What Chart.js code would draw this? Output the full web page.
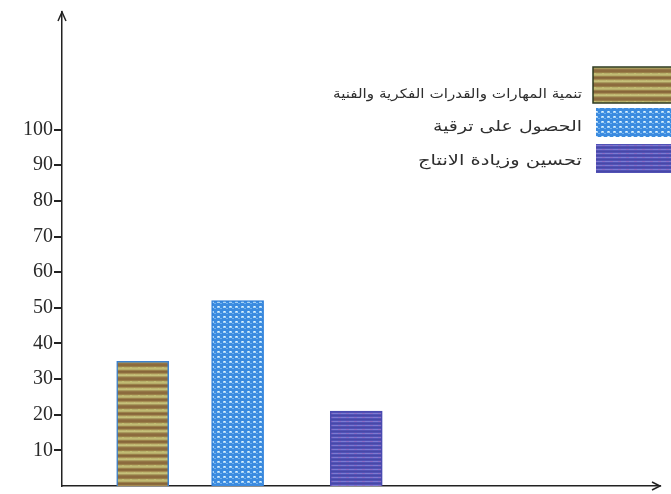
<!DOCTYPE html>
<html lang="ar">
<head>
<meta charset="utf-8">
<title>أسباب المشاركة في التدريب</title>
<script src="https://cdn.jsdelivr.net/npm/chart.js@4.4.1/dist/chart.umd.min.js"></script>
<style>
  html, body { margin: 0; padding: 0; background: #fff; }
  #wrap { width: 671px; height: 494px; }
</style>
</head>
<body>
<div id="wrap"><canvas id="chart" width="671" height="494"></canvas></div>
<script>
// categories and values
const labels = [
  'تنمية المهارات والقدرات الفكرية والفنية',
  'الحصول على ترقية',
  'تحسين وزيادة الانتاج'
];
const values = [35, 52, 21];
// position of each bar along the horizontal axis
const barPos = [1, 2, 3.25];
const yTicks = [10, 20, 30, 40, 50, 60, 70, 80, 90, 100];

// small tiled fills for the bars
function makePattern(w, h, paint) {
  const c = document.createElement('canvas');
  c.width = w; c.height = h;
  paint(c.getContext('2d'));
  return c.getContext('2d').createPattern(c, 'repeat');
}

const patBrown = makePattern(8, 14, g => {
  const rows = ['#8c6b3e', '#8c6b3e', '#9a7f48', '#b5ad6a', '#c2bb73', '#b5ad6a', '#9a7f48',
                '#87663a', '#8c6b3e', '#a58c52', '#bdb570', '#c6c07a', '#a89a5c', '#947646'];
  rows.forEach((col, y) => { g.fillStyle = col; g.fillRect(0, y, 8, 1); });
  g.fillStyle = 'rgba(200,200,120,0.6)';
  g.fillRect(2, 3, 2, 1); g.fillRect(6, 10, 1, 1);
});

const patBlue = makePattern(6, 5, g => {
  g.fillStyle = '#3b8be0';
  g.fillRect(0, 0, 6, 5);
  g.fillStyle = '#a6d3f6';
  g.fillRect(1, 1, 3, 2);
  g.fillStyle = '#e6f3fd';
  g.fillRect(2, 1, 1, 1);
  g.fillStyle = '#6fb0ee';
  g.fillRect(4, 3, 2, 1);
});

const patPurple = makePattern(8, 4, g => {
  g.fillStyle = '#5252b6';
  g.fillRect(0, 0, 8, 4);
  g.fillStyle = '#7b7bd2';
  g.fillRect(0, 1, 8, 1);
  g.fillStyle = '#8a6cc4';
  g.fillRect(2, 1, 3, 1);
  g.fillStyle = '#4848a8';
  g.fillRect(0, 3, 8, 1);
});

const fills = [patBrown, patBlue, patPurple];
const edges = ['#3a80d0', '#2f7fd8', '#4a4ab0'];

// arrow heads on both axes
const axisArrows = {
  id: 'axisArrows',
  afterDraw(chart) {
    const { ctx, chartArea: a } = chart;
    ctx.save();
    ctx.strokeStyle = '#222';
    ctx.lineWidth = 1.5;
    ctx.beginPath();
    ctx.moveTo(a.left - 4, a.top + 9);
    ctx.lineTo(a.left, a.top);
    ctx.lineTo(a.left + 4, a.top + 9);
    ctx.moveTo(a.right - 8, a.bottom - 4);
    ctx.lineTo(a.right, a.bottom);
    ctx.lineTo(a.right - 8, a.bottom + 4);
    ctx.stroke();
    ctx.restore();
  }
};

// legend on the right: swatch at the edge, text to its left,
// each line stretched sideways to its own width
const sideLegend = {
  id: 'sideLegend',
  afterDraw(chart) {
    const { ctx } = chart;
    const items = [
      { box: [593, 67, 80, 36], textY: 95, size: 13, width: 249, border: '#2e3a20' },
      { box: [596, 108, 80, 29], textY: 127, size: 15, width: 149, border: null },
      { box: [596, 144, 80, 29], textY: 161, size: 15, width: 164, border: null }
    ];
    ctx.save();
    chart.data.datasets.forEach((ds, i) => {
      const it = items[i];
      const [x, y, w, h] = it.box;
      ctx.fillStyle = ds.backgroundColor;
      ctx.fillRect(x, y, w, h);
      if (it.border) {
        ctx.strokeStyle = it.border;
        ctx.lineWidth = 1.5;
        ctx.strokeRect(x, y, w, h);
      }
      ctx.fillStyle = '#2e2e2e';
      ctx.font = it.size + 'px "DejaVu Sans"';
      ctx.direction = 'rtl';
      ctx.textAlign = 'right';
      ctx.textBaseline = 'middle';
      const sx = it.width / ctx.measureText(ds.label).width;
      ctx.save();
      ctx.translate(582, it.textY);
      ctx.scale(sx, 1);
      ctx.fillText(ds.label, 0, 0);
      ctx.restore();
    });
    ctx.restore();
  }
};

new Chart(document.getElementById('chart'), {
  type: 'bar',
  data: {
    datasets: labels.map((label, i) => ({
      label: label,
      data: [{ x: barPos[i], y: values[i] }],
      backgroundColor: fills[i],
      borderColor: edges[i],
      borderWidth: 1.5,
      barThickness: 52,
      grouped: false
    }))
  },
  options: {
    responsive: false,
    animation: false,
    layout: { padding: { top: 12, right: 11, left: 0, bottom: 8 } },
    plugins: {
      legend: { display: false },
      tooltip: { enabled: false }
    },
    scales: {
      x: {
        type: 'linear',
        offset: false,
        min: 0.15,
        max: 6.45,
        ticks: { display: false },
        grid: { display: false },
        border: { display: true, color: '#222', width: 1.5 },
        afterFit(scale) { scale.height = 0; }
      },
      y: {
        min: 0,
        max: 133,
        afterBuildTicks(scale) { scale.ticks = yTicks.map(v => ({ value: v })); },
        ticks: {
          color: '#2a2a2a',
          padding: 1,
          font: { family: '"Liberation Serif"', size: 20 }
        },
        grid: {
          drawOnChartArea: false,
          drawTicks: true,
          tickLength: 8,
          color: '#222',
          lineWidth: 2
        },
        border: { display: true, color: '#222', width: 1.5 },
        afterFit(scale) {
          scale.width = 62;
          // no label overhang at the axis ends
          scale.paddingTop = 0;
          scale.paddingBottom = 0;
        }
      }
    }
  },
  plugins: [axisArrows, sideLegend]
});
</script>
</body>
</html>
